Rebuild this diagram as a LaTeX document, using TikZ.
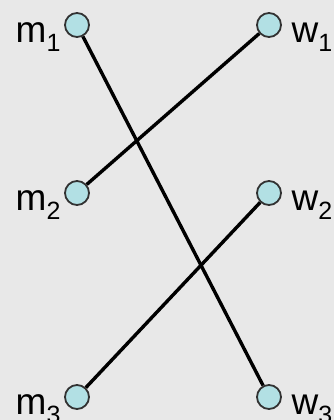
\documentclass[tikz,border=0pt]{standalone}
\usepackage{fontspec}
\setmainfont{Liberation Sans}
\usepackage{tikz}
\definecolor{bgcolor}{RGB}{232,232,232}
\definecolor{nodefill}{RGB}{178,224,228}
\definecolor{nodeline}{RGB}{50,50,50}
\tikzset{
    person/.style={circle, draw=nodeline, line width=1.8pt, fill=nodefill, minimum size=24pt, inner sep=0pt},
    personname/.style={font=\fontsize{37}{40}\selectfont, inner sep=0pt},
    match/.style={line width=3.4pt, black}
}
\newcommand{\lowdigit}[1]{\raisebox{-9.5pt}{\fontsize{25}{25}\selectfont #1}}

\begin{document}
\begin{tikzpicture}[x=1pt, y=-1pt]
    \fill[bgcolor] (0,0) rectangle (334,420);
    \useasboundingbox (0,0) rectangle (334,420);
    \foreach \i/\y in {1/25, 2/193, 3/397} {
        \node[person] (m\i) at (77,\y) {};
        \node[person] (w\i) at (269,\y) {};
        \node[personname, anchor=base west] (mname\i) at (15.5,\y+17) {m\lowdigit{\i}};
        \node[personname, anchor=base west] (wname\i) at (291.5,\y+17) {w\lowdigit{\i}};
    }
    \draw[match] (m1) -- (w3);
    \draw[match] (m2) -- (w1);
    \draw[match] (m3) -- (w2);
\end{tikzpicture}
\end{document}
